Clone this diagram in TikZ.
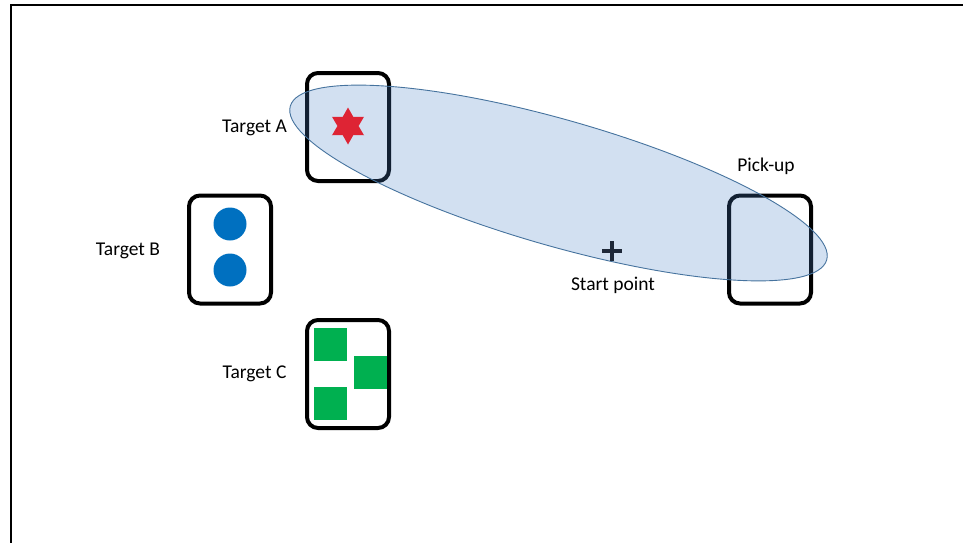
\documentclass[tikz,border=0pt]{standalone}
\usepackage{fontspec}
\setmainfont{Carlito}
\usetikzlibrary{shapes.geometric}
\definecolor{zonefill}{RGB}{75,130,200}
\definecolor{zoneline}{RGB}{70,115,158}
\definecolor{starred}{RGB}{222,36,52}
\definecolor{dotblue}{RGB}{0,112,192}
\definecolor{sqgreen}{RGB}{0,176,80}
\definecolor{crossnavy}{RGB}{30,40,56}
\begin{document}
\begin{tikzpicture}[x=1pt,y=-1pt,
  tray/.style={draw=black,line width=4pt,rounded corners=11pt,minimum width=82pt,minimum height=108pt,inner sep=0pt},
  lbl/.style={font=\fontsize{19.5}{23}\selectfont,inner sep=0pt},
  dot/.style={circle,fill=dotblue,minimum size=33pt,inner sep=0pt},
  sq/.style={fill=sqgreen,minimum size=33pt,inner sep=0pt}]
\useasboundingbox (0,0) rectangle (963,543);
% frame edges
\draw[line width=2.5pt] (11,543) -- (11,5) -- (963,5);
% trays
\node[tray] (ta) at (348,127) {};
\node[tray] (tb) at (230,249.5) {};
\node[tray] (tc) at (348,374) {};
\node[tray] (pu) at (770,249.5) {};
% reach zone
\node[ellipse,draw=zoneline,line width=0.9pt,fill=zonefill,fill opacity=0.25,
      minimum width=558pt,minimum height=126pt,inner sep=0pt,rotate=-16] (zone) at (558.5,183) {};
% contents
\node[star,star points=6,star point ratio=1.75,fill=starred,minimum size=37pt,inner sep=0pt] (st) at (348,126) {};
\node[dot] (d1) at (230,224) {};
\node[dot] (d2) at (230,270) {};
\node[sq] (s1) at (330,344) {};
\node[sq] (s2) at (370.5,372.5) {};
\node[sq] (s3) at (330,403.5) {};
% start point marker
\coordinate (sp) at (612,251);
\draw[crossnavy,line width=4pt] ([xshift=-10pt]sp) -- ([xshift=10pt]sp);
\draw[crossnavy,line width=4pt] ([yshift=-10pt]sp) -- ([yshift=10pt]sp);
% labels
\node[lbl] (la) at (254.5,128) {Target A};
\node[lbl] (lb) at (128,251) {Target B};
\node[lbl] (lc) at (254.5,374) {Target C};
\node[lbl] (lp) at (766,166) {Pick-up};
\node[lbl] (ls) at (613,285) {Start point};
\end{tikzpicture}
\end{document}
